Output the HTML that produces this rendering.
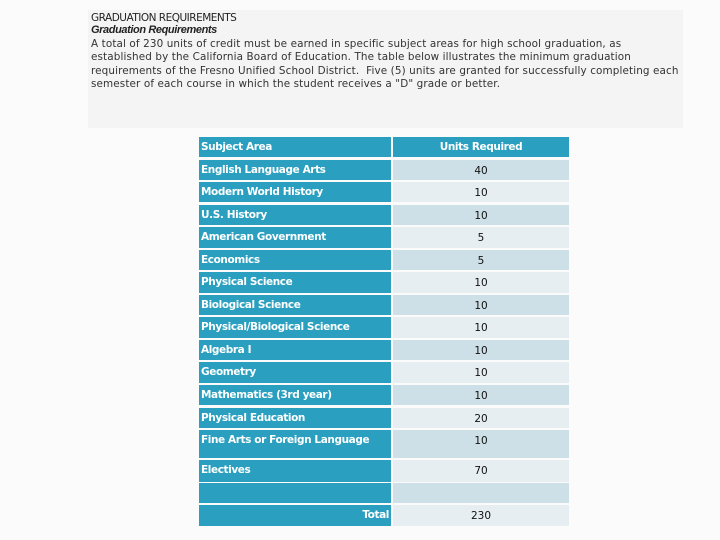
<!DOCTYPE html>
<html><head><meta charset="utf-8"><style>
body{margin:0;width:720px;height:540px;background:#fbfbfb;position:relative;overflow:hidden;font-family:"Liberation Sans","DejaVu Sans",sans-serif}
#box{position:absolute;left:88px;top:10px;width:595px;height:118px;background:#f4f4f4}
.t{position:absolute;left:91px;color:#222;font-size:11px;white-space:nowrap}
.c{position:absolute;box-sizing:border-box;font-size:11px}
.l{left:199px;width:192px;background:#2a9fbf;color:#fff;font-weight:bold;padding:4px 2px 0 2px;font-family:"DejaVu Sans",sans-serif;font-size:10.5px;letter-spacing:-0.4px}
.r{left:393px;width:176px;text-align:center;color:#111;padding-top:5px;font-family:"DejaVu Sans",sans-serif;font-size:10.5px}
</style></head><body>
<div id="box"></div>
<div class="t" style="top:12px;font-size:10.5px;font-family:'DejaVu Sans',sans-serif;letter-spacing:-0.5px">GRADUATION REQUIREMENTS</div>
<div class="t" style="top:24px;font-weight:bold;font-style:italic;letter-spacing:-0.4px">Graduation Requirements</div>
<div class="t" style="top:38px;line-height:13.4px;font-size:10.4px;font-family:'DejaVu Sans',sans-serif;letter-spacing:0.12px;color:#333">A total of 230 units of credit must be earned in specific subject areas for high school graduation, as<br>established by the California Board of Education. The table below illustrates the minimum graduation<br>requirements of the Fresno Unified School District.&nbsp; Five (5) units are granted for successfully completing each<br>semester of each course in which the student receives a "D" grade or better.</div>
<div id="tbl"></div>
<script>
const subjects=["English Language Arts","Modern World History","U.S. History","American Government","Economics","Physical Science","Biological Science","Physical/Biological Science","Algebra I","Geometry","Mathematics (3rd year)","Physical Education","Fine Arts or Foreign Language","Electives",""];
const units=["40","10","10","5","5","10","10","10","10","10","10","20","10","70",""];
const tops=[160,182,205,227,250,272,295,317,340,362,385,408,430,460,483];
const hts=[20,20,20,21,20,21,20,21,20,21,20,20,28,22,20];
const tbl=document.getElementById('tbl');
function cell(cls,top,h,txt,bg,name){const d=document.createElement('div');d.className='c '+cls;d.style.top=top+'px';d.style.height=h+'px';if(bg)d.style.background=bg;d.textContent=txt;


tbl.appendChild(d);return d;}
const h1=cell('l',137,20,'Subject Area',null,'header-subject');
const h2=cell('r',137,20,'Units Required','#2a9fbf','header-units');h2.style.color='#fff';h2.style.fontWeight='bold';h2.style.letterSpacing='-0.4px';h2.style.paddingTop='4px';
subjects.forEach((s,i)=>{cell('l',tops[i],hts[i],s,null,'subject-cell');cell('r',tops[i],hts[i],units[i],i%2?'#e6eef2':'#cddfe7','units-cell');});
const tl=cell('l',505,21,'Total',null,'total-label');tl.style.textAlign='right';
cell('r',505,21,'230','#e6eef2','total-value');
</script>
</body></html>
